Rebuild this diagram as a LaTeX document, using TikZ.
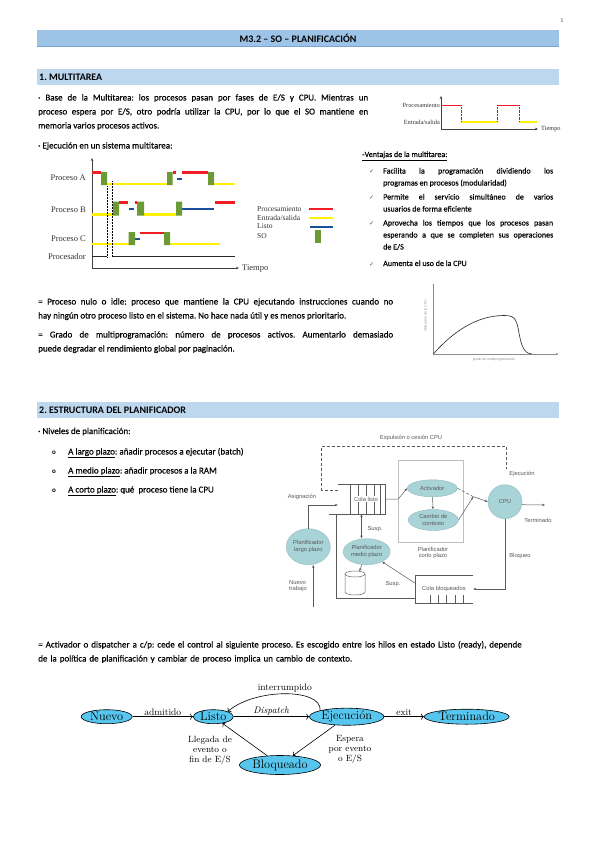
\documentclass[tikz,border=0pt]{standalone}
\usepackage{fontspec}
\usetikzlibrary{positioning,shapes.geometric,arrows.meta}
\newfontfamily\calib{Carlito}[FakeBold=0.3]
\newfontfamily\calibh{Carlito}
\newfontfamily\tms{Liberation Serif}
\newfontfamily\arl{Liberation Sans}
\newfontfamily\dvs{DejaVu Sans}
\frenchspacing
\definecolor{barTitle}{HTML}{9DC3E6}
\definecolor{barEdge}{HTML}{7BA4D0}
\definecolor{barSec}{HTML}{BDD7EE}
\definecolor{pRed}{HTML}{F21D24}
\definecolor{pYel}{HTML}{FFF200}
\definecolor{pBlu}{HTML}{1B4F9C}
\definecolor{pGrn}{HTML}{6C9A34}
\definecolor{plFill}{HTML}{A8D4D8}
\definecolor{plEdge}{HTML}{8FB9BD}
\definecolor{stFill}{HTML}{57C6EE}
\tikzset{
  body/.style={anchor=base west, inner sep=0pt, align=justify, font=\calib\frenchspacing\fontsize{9}{14}\selectfont},
  head/.style={anchor=west, inner sep=0pt, font=\calibh\bfseries\fontsize{10}{11}\selectfont},
  vent/.style={anchor=base west, inner sep=0pt, font=\calib\frenchspacing\fontsize{8}{12}\selectfont},
  tlbl/.style={inner sep=0pt, text=black!80, font=\tms\fontsize{8.5}{9}\selectfont},
  procln/.style={draw=pRed, line width=2.2pt},
  esln/.style={draw=pYel, line width=2.2pt},
  listoln/.style={draw=pBlu, line width=2.2pt},
  sobox/.style={fill=pGrn},
  axis/.style={-{Stealth[length=3pt,width=2.5pt]}, black!75, line width=0.6pt},
  sch/.style={font=\arl\fontsize{5.8}{6.6}\selectfont, text=black!65, inner sep=0pt, align=center},
  schline/.style={black!65, line width=0.5pt, >={Stealth[length=3pt,width=2.4pt]}},
  pl/.style={ellipse, draw=plEdge, fill=plFill, sch},
  st/.style={ellipse, draw, fill=stFill, line width=0.6pt, inner xsep=1pt, inner ysep=0.5pt, font=\fontsize{12.3}{13}\selectfont},
  lab/.style={inner sep=1pt, font=\fontsize{9.5}{10}\selectfont}
}
\begin{document}
\begin{tikzpicture}[x=1pt,y=-1pt]
\useasboundingbox (0,0) rectangle (599,848);
\fill[white] (0,0) rectangle (599,848);

\node[font=\calibh\fontsize{6}{7}\selectfont, text=black!70] (pagenum) at (562,21) {1};
\fill[barTitle] (37,30) rectangle (559,47);
\draw[barEdge, line width=1.2pt] (37,46.4) -- (559,46.4);
\node[head, anchor=center] (titulo) at (298,38.5) {M3.2 – SO – PLANIFICACIÓN};

\fill[barSec] (37,69) rectangle (559,85);
\node[head] (sec1) at (39,77.5) {1. MULTITAREA};
\node[body, text width=330pt] (base) at (38,100.5) {· Base de la Multitarea: los procesos pasan por fases de E/S y CPU. Mientras un\linebreak proceso espera por E/S, otro podría utilizar la CPU, por lo que el SO mantiene en\linebreak memoria varios procesos activos.};

\draw[axis, line width=0.4pt] (441,129) -- (441,96);
\draw[axis, line width=0.4pt] (441,129) -- (538,129);
\draw[pRed, line width=1.1pt] (441,105.5) -- (461,105.5) (497,105.5) -- (519,105.5);
\draw[pYel, line width=1.4pt] (461,122) -- (497,122) (519,122) -- (537,122);
\foreach \x in {461,497,519} \draw[densely dotted, black!70, line width=0.4pt] (\x,105.5) -- (\x,122);
\node[tlbl, anchor=east, font=\tms\fontsize{6.3}{7}\selectfont] (mproc) at (440,105.5) {Procesamiento};
\node[tlbl, anchor=east, font=\tms\fontsize{6.3}{7}\selectfont] (mes) at (440,122) {Entrada/salida};
\node[tlbl, anchor=west, font=\tms\fontsize{6.3}{7}\selectfont] (mtiempo) at (541,129.5) {Tiempo};

\node[body] (ejecsis) at (38,148.5) {· Ejecución en un sistema multitarea:};
\draw[axis] (92,268) -- (92,158);
\draw[axis] (92,268) -- (239,268);
\node[tlbl, anchor=west] (tiempo) at (242,269) {Tiempo};
\foreach \y/\t [count=\i] in {178/Proceso A, 210/Proceso B, 239/Proceso C, 256.5/Procesador}
  \node[tlbl, anchor=east] (fila\i) at (86,\y) {\t};

\draw[procln] (92,172.5) -- (101,172.5) (172.5,172.5) -- (175.5,172.5) (181.5,172.5) -- (208,172.5);
\draw[esln] (107,184) -- (167,184) (214,184) -- (235,184);
\draw[listoln] (176.5,179) -- (181.5,179);
\fill[sobox] (101,172) rectangle (107,185) (167,172) rectangle (172.5,185) (208,172) rectangle (214,185);

\draw[procln] (119,202.5) -- (127.5,202.5) (134.5,202.5) -- (137,202.5) (215,202.5) -- (235,202.5);
\draw[esln] (92,214.5) -- (113,214.5) (144,214.5) -- (176,214.5);
\draw[listoln] (128.5,209) -- (134,209) (182,209) -- (214,209);
\fill[sobox] (113,201.5) rectangle (119,215.5) (137,201.5) rectangle (144,215.5) (176,201.5) rectangle (182,215.5);

\draw[procln] (140,233) -- (164,233);
\draw[esln] (92,244) -- (128.5,244) (170,244) -- (220,244);
\draw[listoln] (135,239) -- (140,239);
\fill[sobox] (128.5,232) rectangle (135,245) (164,232) rectangle (170,245);

\draw[black!85, line width=0.7pt] (92,256.5) -- (107.3,256.5) (112.7,256.5) -- (235,256.5);
\draw[densely dotted, line width=0.5pt] (107.3,186) -- (107.3,257) (112.7,181) -- (112.7,257);

\foreach \y/\t [count=\i] in {209/Procesamiento, 218/{Entrada/salida}, 226.5/Listo, 236.5/SO}
  \node[tlbl, anchor=west, font=\tms\fontsize{7.5}{8}\selectfont] (ley\i) at (257,\y) {\t};
\draw[procln] (309,209) -- (333,209);
\draw[esln] (309,218) -- (333,218);
\draw[listoln] (310,227) -- (333,227);
\fill[sobox] (315,230) rectangle (321,243);

\node[vent] (ventajas) at (362,157) {\underline{-Ventajas de la multitarea:}};
\foreach \y/\t [count=\i] in {173.5/{Facilita la programación dividiendo los\linebreak programas en procesos (modularidad)},
    199.5/{Permite el servicio simultáneo de varios\linebreak usuarios de forma eficiente},
    225.5/{Aprovecha los tiempos que los procesos pasan\linebreak esperando a que se completen sus operaciones\linebreak de E/S},
    266/{Aumenta el uso de la CPU}} {
  \node[vent, font=\dvs\fontsize{6}{7}\selectfont, text=black!70] (chk\i) at (369,\y) {✓};
  \node[vent, text width=170pt, align=justify] (item\i) at (383,\y) {\t};
}

\node[body, text width=355pt] (nulo) at (38,304.5) {= Proceso nulo o idle: proceso que mantiene la CPU ejecutando instrucciones cuando no\linebreak hay ningún otro proceso listo en el sistema. No hace nada útil y es menos prioritario.};
\node[body, text width=355pt] (grado) at (38,337.5) {= Grado de multiprogramación: número de procesos activos. Aumentarlo demasiado\linebreak puede degradar el rendimiento global por paginación.};

\draw[black!45, line width=0.5pt] (433.3,354) -- (433.3,285) (433.3,354) -- (557,354);
\fill[black!60] (433.3,285) circle (0.8pt) (557,354) circle (0.8pt);
\draw[black!85, line width=0.6pt] (433.3,354) .. controls (452,333) and (475,316) .. (503,315.5) .. controls (514,315.3) and (516,318) .. (518.5,330) .. controls (521,346) and (524,353.5) .. (532,354);
\node[sch, rotate=90, font=\arl\fontsize{3.4}{4}\selectfont, text=black!45] (ycpu) at (425.5,316) {Utilización de la CPU};
\node[sch, font=\arl\fontsize{3.4}{4}\selectfont, text=black!45] (xgrado) at (494,359.5) {grado de multiprogramación};

\fill[barSec] (37,402) rectangle (559,418);
\node[head] (sec2) at (39,410.5) {2. ESTRUCTURA DEL PLANIFICADOR};
\node[body] (niveles) at (38,434) {· Niveles de planificación:};
\foreach \y/\a/\b [count=\i] in {454.5/A largo plazo/{: añadir procesos a ejecutar (batch)}, 473.5/A medio plazo/{: añadir procesos a la RAM}, 492.5/A corto plazo/{: qué\ \ proceso tiene la CPU}} {
  \node[body, font=\calibh\bfseries\fontsize{7}{8}\selectfont] (bul\i) at (52,\y) {o};
  \node[body] (niv\i) at (68,\y) {\underline{\a}\b};
}

\node[sch] (expulsion) at (411,438) {Expulsión o cesión CPU};
\node[sch] (asignacion) at (302,497) {Asignación};
\node[minimum width=47pt, minimum height=30pt, inner sep=0pt] (qlisto) at (361.5,499) {};
\draw[schline] (qlisto.north west) -- (qlisto.north east) -- (qlisto.south east) -- ([xshift=-9pt]qlisto.south west);
\foreach \x in {350,358,366,374,380} \draw[schline] (\x,484) -- (\x,514);
\node[sch, fill=white, inner sep=0.5pt] (colalisto) at (366,499) {Cola listo};
\node[draw=black!25, minimum width=65pt, minimum height=82pt, inner sep=0pt] (cortobox) at (430.5,501) {};
\node[pl, minimum width=50pt, minimum height=17pt] (activador) at (432.3,488.3) {Activador};
\node[pl, minimum width=50pt, minimum height=21pt] (cambio) at (433.3,520) {Cambio de\\contexto};
\node[sch] (corto) at (433,553) {Planificador\\corto plazo};
\node[circle, draw=plEdge, fill=plFill, minimum size=34pt, sch] (cpu) at (505,501.7) {CPU};
\node[sch] (ejecucion) at (522,473.5) {Ejecución};
\node[sch] (terminado) at (538,520.5) {Terminado};
\node[sch] (bloqueo) at (520,556) {Bloqueo};
\node[pl, minimum width=47pt, minimum height=26pt] (medio) at (366.7,551.7) {Planificador\\medio plazo};
\node[pl, minimum width=44pt, minimum height=36pt] (largo) at (308.3,546.7) {Planificador\\largo plazo};
\node[sch, align=left] (nuevotrab) at (298,586) {Nuevo\\trabajo};
\node[sch] (susp1) at (375,529) {Susp.};
\node[sch] (susp2) at (393,584) {Susp.};
\node[minimum width=58pt, minimum height=28pt, inner sep=0pt, sch] (qbloq) at (444,589) {Cola bloqueados};
\draw[schline] (qbloq.north east) -- (qbloq.north west) -- (qbloq.south west) -- (qbloq.south east);
\foreach \x in {430,438,446,455,463} \draw[schline] (\x,595) -- (\x,603);
\node[minimum width=20pt, minimum height=23pt, inner sep=0pt] (disco) at (355,583) {};
\draw[black!60, fill=white, line width=0.5pt] (345,574) -- (345,592) arc[start angle=180, end angle=360, x radius=10pt, y radius=3pt] -- (365,574);
\draw[black!60, fill=white, line width=0.5pt] (355,574) ellipse [x radius=10pt, y radius=3pt];
\coordinate (jn) at (473.3,496.7);
\coordinate (fin) at (545,505);
\coordinate (ret) at (336.7,514);
\coordinate (nt) at (313.3,607);

\draw[schline, densely dashed] ([yshift=9pt]qlisto.west) -| (321.7,446.7) -| (506.7,469);
\draw[schline, ->] (largo.north) |- ([yshift=-6pt]qlisto.west);
\draw[schline, ->] (qlisto.east) -- ([xshift=13pt]qlisto.east) -- (activador.west);
\draw[schline, ->] (activador) -- (cambio);
\draw[schline, densely dashed] (activador.east) -- (jn);
\draw[schline, ->] (cambio.east) -- (jn);
\draw[schline, ->] (jn) -- (cpu.west);
\draw[schline, ->] ([yshift=-3pt]cpu.east) -- (fin);
\draw[schline, ->] (cpu.south) |- (qbloq.east);
\draw[schline] ([yshift=5pt]qbloq.south west) -| (ret);
\draw[schline, <->] (qlisto.south) -- (qlisto.south |- medio.north);
\draw[schline, ->] (medio) -- (disco);
\draw[schline, ->] ([yshift=6pt]qbloq.west) -- (medio);
\draw[schline, ->] (nt) -- (nt |- largo.south);

\node[body, text width=522pt, align=left] (activa) at (38,647.5) {= Activador o dispatcher a c/p: cede el control al siguiente proceso. Es escogido entre los hilos en estado Listo (ready), depende\\de la política de planificación y cambiar de proceso implica un cambio de contexto.};

\node[st, minimum width=51pt, minimum height=14pt] (nuevo) at (106.7,716.7) {Nuevo};
\node[st, minimum width=40pt, minimum height=14pt] (listo) at (213.3,716.7) {Listo};
\node[st, minimum width=63pt, minimum height=16pt] (ejec) at (346.7,716.7) {Ejecución};
\node[st, minimum width=85pt, minimum height=15pt] (term) at (466.7,716.7) {Terminado};
\node[st, minimum width=73pt, minimum height=19pt] (bloq) at (280,765) {Bloqueado};
\draw[->, line width=0.6pt] (nuevo) -- node[lab, above] (admitido) {admitido} (listo);
\draw[->, line width=0.6pt] (listo) -- node[lab, above] (dispatch) {\textit{Dispatch}} (ejec);
\draw[->, line width=0.6pt] (ejec) -- node[lab, above] (exit) {exit} (term);
\draw[->, line width=0.6pt] (ejec.north west) .. controls (322,688) and (255,688) .. node[lab, above] (interr) {interrumpido} (listo.north east);
\draw[->, line width=0.6pt] (ejec) -- (bloq);
\draw[->, line width=0.6pt] (bloq) -- (listo);
\node[lab, align=center, font=\fontsize{9}{10}\selectfont] (espera) at (350,750) {Espera\\por evento\\o E/S};
\node[lab, align=center, font=\fontsize{9}{10}\selectfont] (llegada) at (210,750) {Llegada de\\evento o\\fin de E/S};
\end{tikzpicture}
\end{document}
